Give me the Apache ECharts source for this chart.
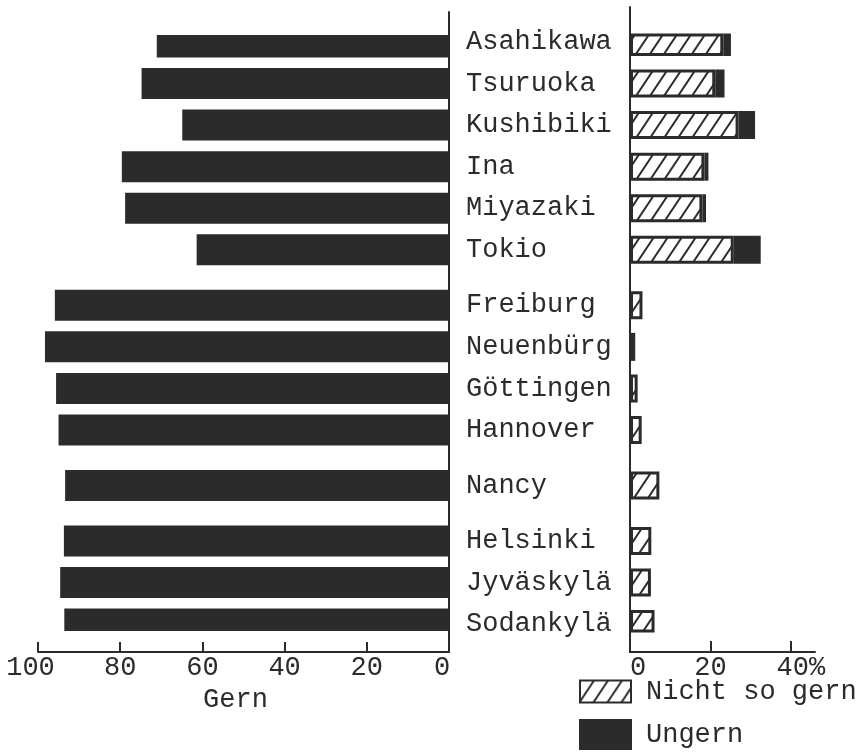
<!DOCTYPE html>
<html><head><meta charset="utf-8">
<script src="https://cdn.jsdelivr.net/npm/echarts@6/dist/echarts.min.js"></script>
<style>html,body{margin:0;padding:0;background:#fff}#c{width:866px;height:753px}</style>
</head><body><div id="c"></div>
<script>
// ---- data ----
const cityGroups = [
  ['Asahikawa', 'Tsuruoka', 'Kushibiki', 'Ina', 'Miyazaki', 'Tokio'],
  ['Freiburg', 'Neuenbürg', 'Göttingen', 'Hannover'],
  ['Nancy'],
  ['Helsinki', 'Jyväskylä', 'Sodankylä']
];
const gern        = [71.1, 74.8, 64.9, 79.6, 78.8, 61.4, 95.9, 98.3, 95.6, 95.0, 93.4, 93.7, 94.6, 93.6];
const nichtSoGern = [23.2, 21.2, 27.0, 18.5, 18.0, 25.8, 3.1, 1.3, 1.9, 2.9, 7.3, 5.3, 5.2, 6.1];
const ungern      = [1.9, 2.3, 4.1, 1.0, 0.9, 6.7, 0, 0, 0, 0, 0, 0, 0, 0];
const gernTicks = [0, 20, 40, 60, 80, 100];
const pctLabelValues = [0, 20, 40];
const pctTickValues = [20, 40];

// ---- build category slots (blank spacer slots between cities / groups) ----
const slots = [], slotCity = [];
let ci = 0;
cityGroups.forEach((g, gi) => {
  g.forEach((name, k) => {
    slots.push(name); slotCity.push(ci++);
    const last = gi === cityGroups.length - 1 && k === g.length - 1;
    if (!last) {
      const blanks = (k === g.length - 1) ? 3 : 2;
      for (let b = 0; b < blanks; b++) { slots.push(''); slotCity.push(-1); }
    }
  });
});
const mapData = (arr, hideZero) => slotCity.map(i => (i < 0 || (hideZero && arr[i] === 0)) ? '-' : arr[i]);

// ---- styling ----
const ink = '#2b2b2b';
const FONT = "'Liberation Mono', 'Courier New', monospace";
const FS = 27;

const pat = document.createElement('canvas');
const PW = 14, PH = 21; pat.width = PW; pat.height = PH;
const pc = pat.getContext('2d');
pc.fillStyle = '#ffffff'; pc.fillRect(0, 0, PW, PH);
pc.strokeStyle = ink; pc.lineWidth = 2;
pc.beginPath();
pc.moveTo(-PW * 0.2, PH * 1.2); pc.lineTo(PW * 1.2, -PH * 0.2);
pc.moveTo(-PW * 0.2, PH * 0.2); pc.lineTo(PW * 0.2, -PH * 0.2);
pc.moveTo(PW * 0.8, PH * 1.2); pc.lineTo(PW * 1.2, PH * 0.8);
pc.stroke();

const rich = (pl, pr) => ({ fontSize: FS, fontFamily: FONT, color: ink, padding: [0, pr, 0, pl] });
const legendText = { fontSize: FS, fontFamily: FONT, color: ink, padding: [0, 0, 0, 10] };

const chart = echarts.init(document.getElementById('c'), null, { renderer: 'canvas' });
const barTop = 35, barHeight = 596;
chart.setOption({
  animation: false,
  backgroundColor: '#ffffff',
  textStyle: { fontFamily: FONT, color: ink },
  grid: [
    { left: 38, width: 411, top: 12, height: 640, outerBoundsMode: 'none', containLabel: false },
    { left: 38, width: 411, top: barTop, height: barHeight, outerBoundsMode: 'none', containLabel: false },
    { left: 630, width: 185, top: 7, height: 645, outerBoundsMode: 'none', containLabel: false },
    { left: 630, width: 185, top: barTop, height: barHeight, outerBoundsMode: 'none', containLabel: false }
  ],
  xAxis: [
    {
      gridIndex: 0, type: 'value', min: gernTicks[0], max: gernTicks[gernTicks.length - 1], interval: 20, inverse: true,
      axisLine: { show: true, onZero: false, lineStyle: { color: ink, width: 2 } },
      axisTick: { show: true, inside: true, length: 10, lineStyle: { color: ink, width: 2 } },
      splitLine: { show: false },
      axisLabel: {
        margin: 2, fontSize: FS, fontFamily: FONT, color: ink,
        formatter: v => v === 100 ? '{a|100}' : (v === 0 ? '{b|0}' : String(v)),
        rich: { a: rich(0, 15), b: rich(0, 14) }
      },
      name: 'Gern', nameLocation: 'middle', nameGap: 32,
      nameTextStyle: { fontSize: FS, fontFamily: FONT, color: ink, padding: [0, 16, 0, 0] }
    },
    { gridIndex: 1, type: 'value', min: 0, max: 100, inverse: true, show: false },
    {
      gridIndex: 2, type: 'value', min: 0, max: 46, interval: 20,
      axisLine: { show: true, onZero: false, lineStyle: { color: ink, width: 2 } },
      axisTick: { show: true, inside: true, length: 11, customValues: pctTickValues, lineStyle: { color: ink, width: 2 } },
      splitLine: { show: false },
      axisLabel: {
        margin: 2, fontSize: FS, fontFamily: FONT, color: ink, customValues: pctLabelValues,
        formatter: v => v === 0 ? '{l|0}' : (v === 40 ? '{r|40%}' : String(v)),
        rich: { l: rich(16, 0), r: rich(20, 0) }
      }
    },
    { gridIndex: 3, type: 'value', min: 0, max: 46, show: false }
  ],
  yAxis: [
    {
      gridIndex: 0, type: 'value', min: 0, max: 1, position: 'right',
      axisLine: { show: true, onZero: false, lineStyle: { color: ink, width: 2 } },
      axisTick: { show: false }, axisLabel: { show: false }, splitLine: { show: false }
    },
    {
      gridIndex: 1, type: 'category', data: slots, inverse: true, position: 'right',
      axisLine: { show: false }, axisTick: { show: false }, splitLine: { show: false },
      axisLabel: { interval: 0, align: 'left', margin: 17, fontSize: FS, fontFamily: FONT, color: ink }
    },
    {
      gridIndex: 2, type: 'value', min: 0, max: 1, position: 'left',
      axisLine: { show: true, onZero: false, lineStyle: { color: ink, width: 2 } },
      axisTick: { show: false }, axisLabel: { show: false }, splitLine: { show: false }
    },
    { gridIndex: 3, type: 'category', data: slots, inverse: true, show: false }
  ],
  legend: [
    {
      data: ['Nicht so gern'], orient: 'vertical', left: 579, top: 678, padding: 0,
      itemWidth: 51, itemHeight: 22, icon: 'rect', selectedMode: false, textStyle: legendText
    },
    {
      data: ['Ungern'], orient: 'vertical', left: 579, top: 719, padding: 0,
      itemWidth: 51, itemHeight: 29, icon: 'rect', selectedMode: false, textStyle: legendText
    }
  ],
  series: [
    {
      name: 'Gern', type: 'bar', xAxisIndex: 1, yAxisIndex: 1, data: mapData(gern),
      barWidth: 31, itemStyle: { color: ink }
    },
    {
      name: 'Nicht so gern', type: 'bar', xAxisIndex: 3, yAxisIndex: 3, stack: 'r', data: mapData(nichtSoGern),
      barWidth: 28, itemStyle: { color: { image: pat, repeat: 'repeat' }, borderColor: ink, borderWidth: 3 }
    },
    {
      name: 'Ungern', type: 'bar', xAxisIndex: 3, yAxisIndex: 3, stack: 'r', data: mapData(ungern, true),
      barWidth: 28, itemStyle: { color: ink, borderColor: ink, borderWidth: 3 }
    }
  ]
});
</script>
</body></html>
